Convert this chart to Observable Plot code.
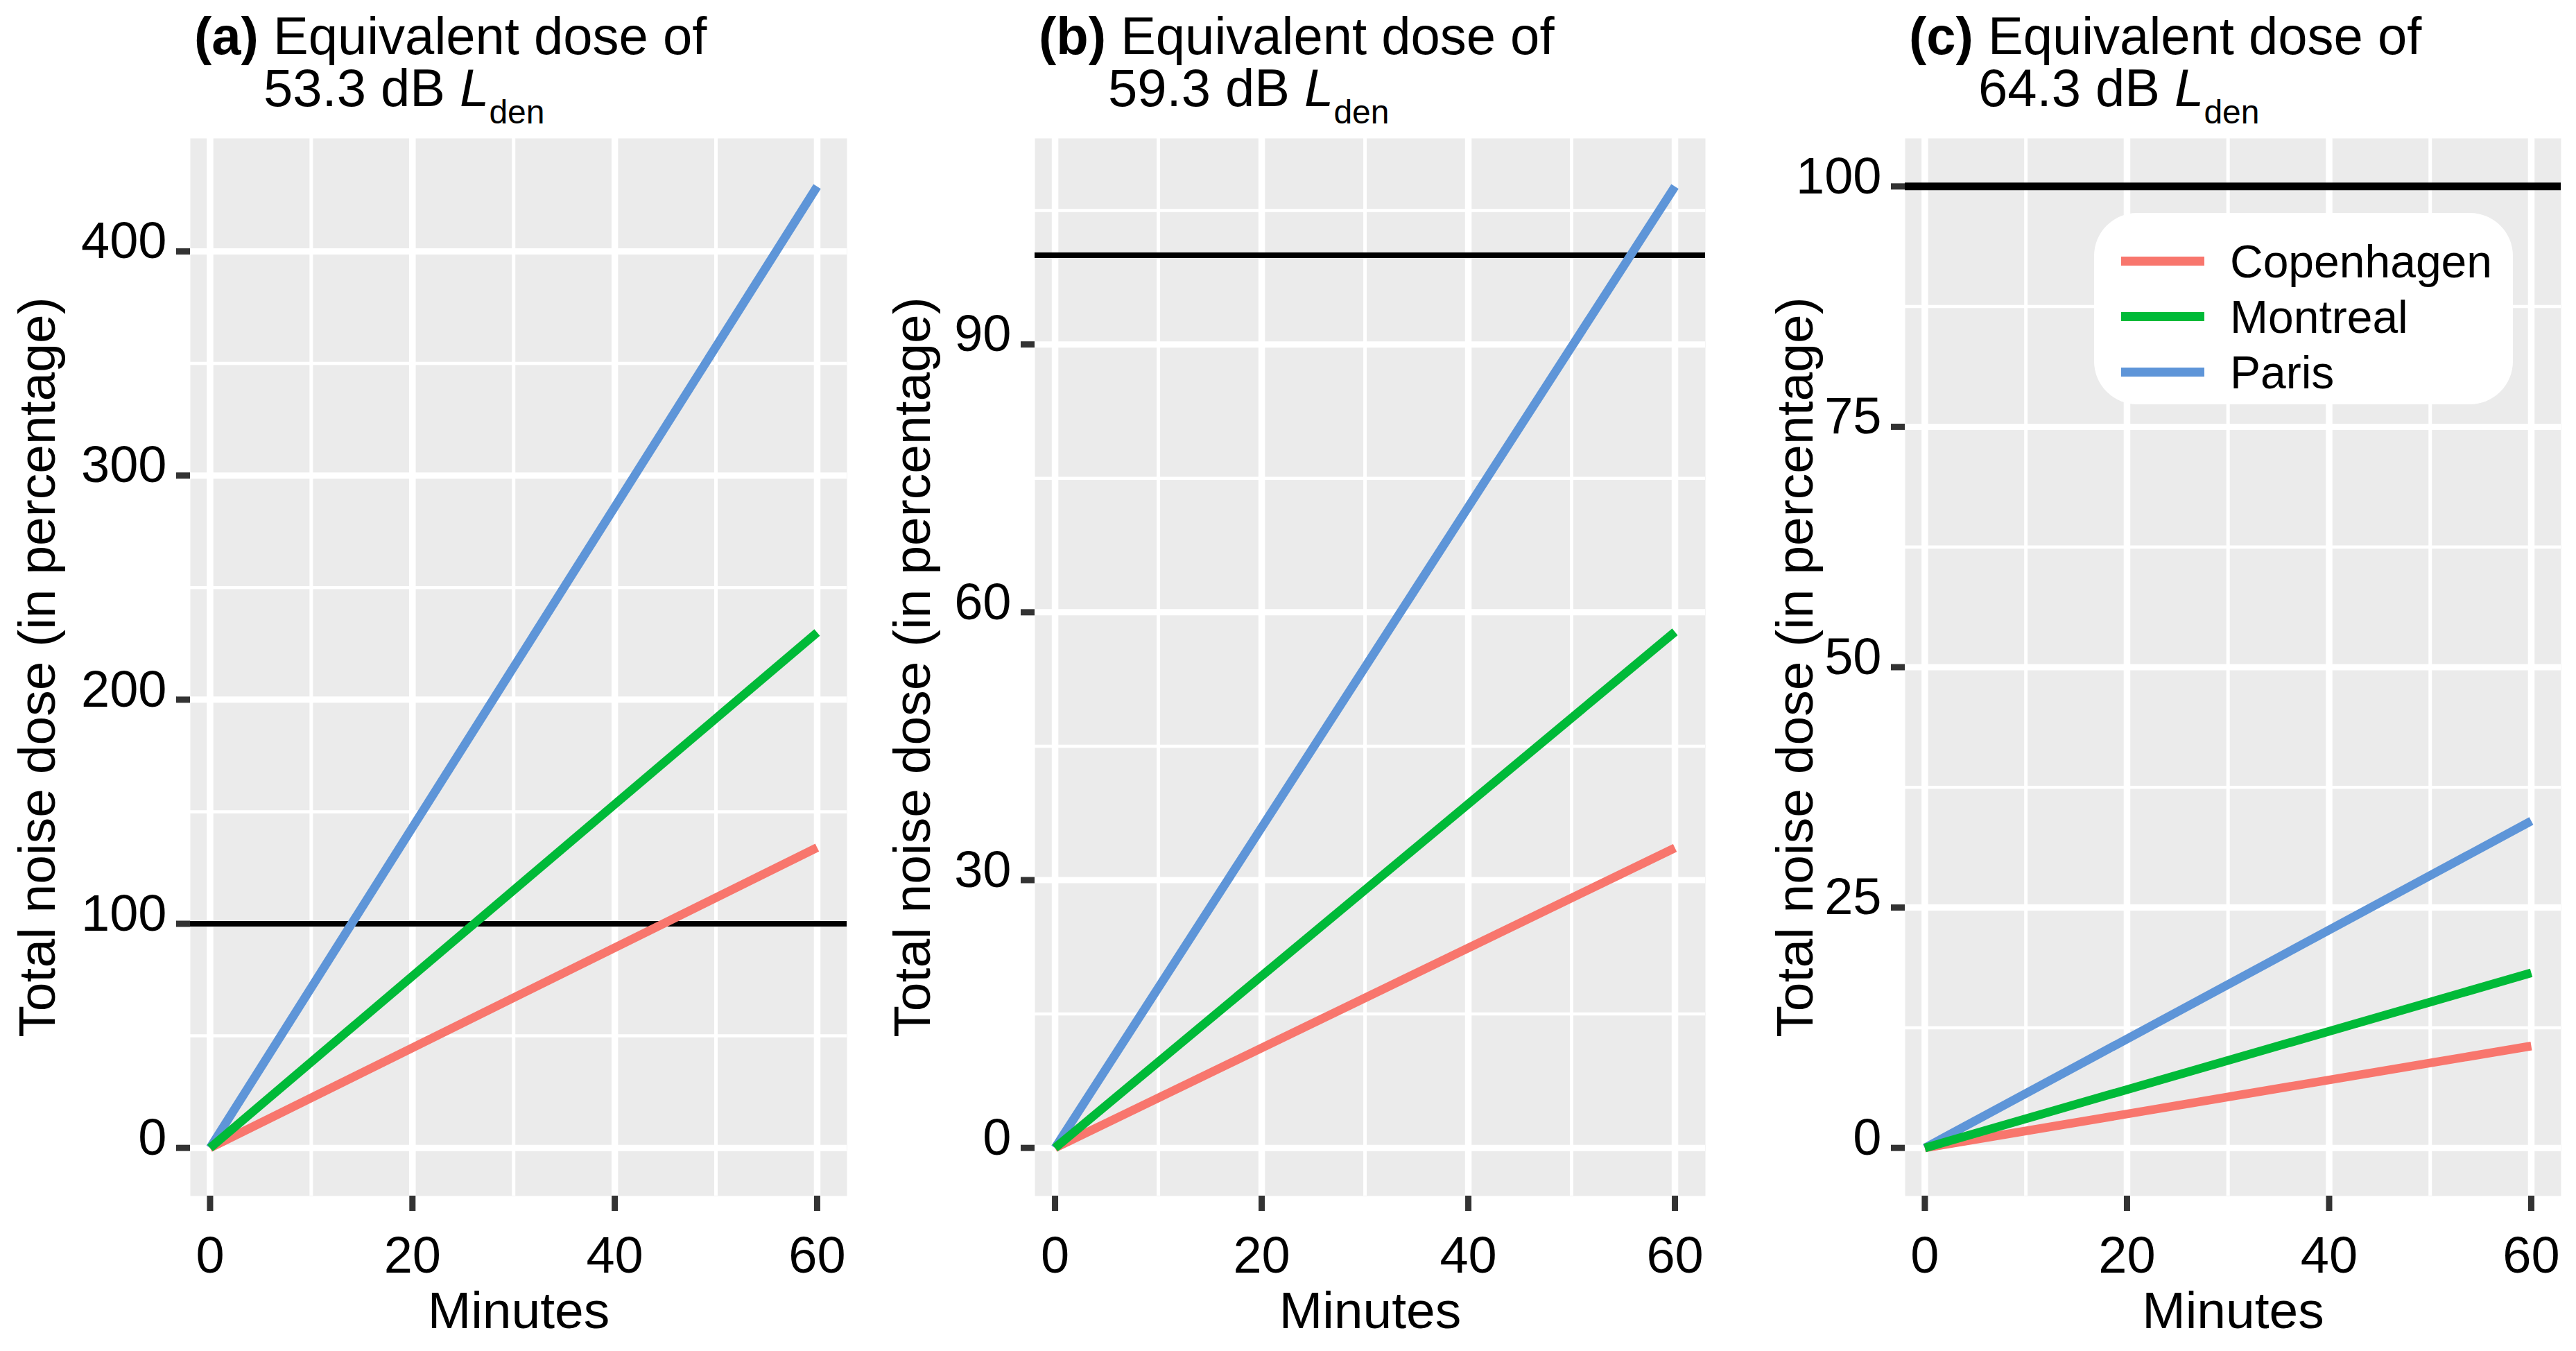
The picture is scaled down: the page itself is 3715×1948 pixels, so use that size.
<!DOCTYPE html>
<html><head><meta charset="utf-8">
<script src="https://cdn.jsdelivr.net/npm/d3@7"></script>
<script src="https://cdn.jsdelivr.net/npm/@observablehq/plot@0.6"></script>
<style>
html,body{margin:0;padding:0;background:#fff;}
#chart{position:relative;width:3715px;height:1948px;overflow:hidden;font-family:"Liberation Sans",Arial,Helvetica,sans-serif;color:#000;background:#fff;}
.panel{position:absolute;top:0;height:1948px;}
.panel svg{position:absolute;left:0;top:189px;}
.t{position:absolute;font-size:76px;line-height:66px;white-space:nowrap;}
.t b{font-weight:bold;}
.t sub{font-size:48px;vertical-align:-25px;line-height:0;}
.legend{position:absolute;background:#fff;border-radius:62px;box-sizing:border-box;}
.legend .row{position:absolute;left:0;height:80px;width:100%;}
.legend .sw{position:absolute;left:39px;top:33px;width:120px;height:13px;}
.legend .lb{position:absolute;left:196px;top:0;font-size:66px;line-height:80px;white-space:nowrap;}
</style></head>
<body><div id="chart"></div>
<script>
// ---- data ----
const cities = ["Copenhagen", "Montreal", "Paris"];
const cityColors = ["#F8766D", "#00BA38", "#5E95D8"];
const minutes = [0, 60];
const doseA = [[0, 134], [0, 230], [0, 429]];      // 53.3 dB Lden
const doseB = [[0, 33.6], [0, 57.8], [0, 107.7]];  // 59.3 dB Lden
const doseC = [[0, 10.6], [0, 18.2], [0, 34.0]];   // 64.3 dB Lden
const threshold = 100;
const xTicks = [0, 20, 40, 60];
const xMinor = [10, 30, 50];
const yTicksA = [0, 100, 200, 300, 400];
const yMinorA = [50, 150, 250, 350];
const yTicksB = [0, 30, 60, 90];
const yMinorB = [15, 45, 75, 105];
const yTicksC = [0, 25, 50, 75, 100];
const yMinorC = [12.5, 37.5, 62.5, 87.5];
const panelLabels = ["(a)", "(b)", "(c)"];
const levels = ["53.3", "59.3", "64.3"];
const titleText = "Equivalent dose of";
const xTitle = "Minutes";
const yTitle = "Total noise dose (in percentage)";
const drawOrder = ["Paris", "Copenhagen", "Montreal"];

// ---- layout ----
const panelLeft = [0, 1238, 2476];
const panelWidth = [1238, 1238, 1239];
const mLeft = [274, 254, 271];
const mRight = [17, 17, 22];
const yTitleDx = [-220, -176, -158];
const hlineWidth = [8, 8, 11];
const FONT = "'Liberation Sans', Arial, Helvetica, sans-serif";

function expand(vals) {
  const lo = Math.min(0, d3.min(vals)), hi = d3.max(vals);
  const pad = (hi - lo) * 0.05;
  return [lo - pad, hi + pad];
}

const chart = document.getElementById("chart");
const sets = [
  {dose: doseA, yTicks: yTicksA, yMinor: yMinorA},
  {dose: doseB, yTicks: yTicksB, yMinor: yMinorB},
  {dose: doseC, yTicks: yTicksC, yMinor: yMinorC}
];

sets.forEach((s, i) => {
  const div = document.createElement("div");
  div.className = "panel";
  div.style.left = panelLeft[i] + "px";
  div.style.width = panelWidth[i] + "px";
  chart.appendChild(div);

  // title (two lines)
  const t1 = document.createElement("div");
  t1.className = "t";
  t1.style.left = (mLeft[i] + 6) + "px";
  t1.style.top = "19px";
  t1.innerHTML = `<b>${panelLabels[i]}</b> ${titleText}`;
  div.appendChild(t1);
  const t2 = document.createElement("div");
  t2.className = "t";
  t2.style.left = (mLeft[i] + 106) + "px";
  t2.style.top = "94px";
  t2.innerHTML = `${levels[i]} dB <i>L</i><sub>den</sub>`;
  div.appendChild(t2);

  const data = [];
  drawOrder.forEach(c => {
    const k = cities.indexOf(c);
    minutes.forEach((m, j) => data.push({city: c, minute: m, dose: s.dose[k][j]}));
  });
  const allY = data.map(d => d.dose).concat([threshold]);

  const svg = Plot.plot({
    width: panelWidth[i],
    height: 1759,
    marginTop: 10,
    marginBottom: 224,
    marginLeft: mLeft[i],
    marginRight: mRight[i],
    style: {fontFamily: FONT, background: "transparent", overflow: "visible", color: "black"},
    x: {domain: [-1.95, 62.95]},
    y: {domain: expand(allY)},
    color: {domain: cities, range: cityColors},
    marks: [
      Plot.frame({fill: "#EBEBEB", stroke: "none"}),
      Plot.ruleY(s.yMinor, {stroke: "white", strokeWidth: 4.5}),
      Plot.ruleX(xMinor, {stroke: "white", strokeWidth: 5}),
      Plot.ruleY(s.yTicks, {stroke: "white", strokeWidth: 9}),
      Plot.ruleX(xTicks, {stroke: "white", strokeWidth: 9.5}),
      Plot.ruleY([threshold], {stroke: "black", strokeWidth: hlineWidth[i]}),
      Plot.line(data, {x: "minute", y: "dose", z: "city", stroke: "city", strokeWidth: 12.5, strokeLinecap: "butt"}),
      Plot.axisX({ticks: xTicks, tickSize: 22, tickPadding: 36, fontSize: 74, stroke: "#333", strokeWidth: 9, fill: "none", label: null}),
      Plot.axisX({ticks: xTicks, tickSize: 22, tickPadding: 36, fontSize: 74, stroke: "none", fill: "black", label: null}),
      Plot.axisY({ticks: s.yTicks, tickSize: 20, tickPadding: 14, fontSize: 74, stroke: "#333", strokeWidth: 9, fill: "none", label: null}),
      Plot.axisY({ticks: s.yTicks, tickSize: 20, tickPadding: 14, fontSize: 74, stroke: "none", fill: "black", dy: -14, label: null}),
      Plot.text([xTitle], {frameAnchor: "bottom", textAnchor: "middle", lineAnchor: "middle", dy: 166, fontSize: 75, fill: "black"}),
      Plot.text([yTitle], {frameAnchor: "left", textAnchor: "middle", lineAnchor: "middle", dx: yTitleDx[i], rotate: -90, fontSize: 75, fill: "black"})
    ]
  });
  div.appendChild(svg);

  if (i === 2) {
    const lg = document.createElement("div");
    lg.className = "legend";
    lg.style.left = "544px";
    lg.style.top = "307px";
    lg.style.width = "604px";
    lg.style.height = "276px";
    cities.forEach((c, k) => {
      const row = document.createElement("div");
      row.className = "row";
      row.style.top = (30 + k * 80) + "px";
      row.innerHTML = `<div class="sw" style="background:${cityColors[k]}"></div><div class="lb">${c}</div>`;
      lg.appendChild(row);
    });
    div.appendChild(lg);
  }
});
</script>
</body></html>
